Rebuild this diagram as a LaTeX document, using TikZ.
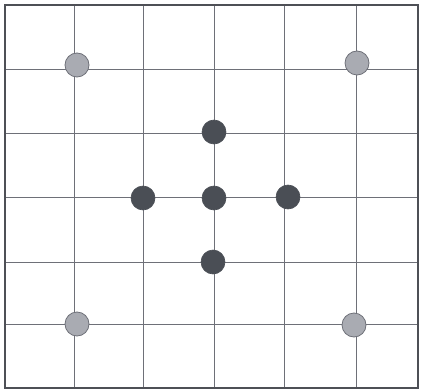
\documentclass[tikz,border=0pt]{standalone}
\usepackage{tikz}
\usepackage{xcolor}
\definecolor{gridgray}{HTML}{6E7078}
\definecolor{framegray}{HTML}{4E5056}
\definecolor{stonelight}{HTML}{A9ABB2}
\definecolor{stonedark}{HTML}{4A4E55}

\begin{document}
\begin{tikzpicture}[x=1pt, y=-1pt,
  lightstone/.style={circle, minimum size=24pt, inner sep=0pt, fill=stonelight, draw=gridgray, line width=0.8pt},
  darkstone/.style={circle, minimum size=24pt, inner sep=0pt, fill=stonedark, draw=stonedark, line width=0.6pt}]
  \useasboundingbox (0,0) rectangle (422,390);
  % grid
  \foreach \gx in {74,143,214,284,356}
    \draw[gridgray, line width=0.7pt] (\gx,5) -- (\gx,388);
  \foreach \gy in {69,133,197,262,324}
    \draw[gridgray, line width=0.7pt] (5,\gy) -- (418,\gy);
  \draw[framegray, line width=1.4pt] (5,5) rectangle (418,388);
  % corner stones
  \node[lightstone] (nw) at (77,65) {};
  \node[lightstone] (ne) at (357,63) {};
  \node[lightstone] (sw) at (77,324) {};
  \node[lightstone] (se) at (354,325) {};
  % centre cross
  \node[darkstone] (c) at (214,198) {};
  \node[darkstone] (n) at (214,132) {};
  \node[darkstone] (w) at (143,198) {};
  \node[darkstone] (e) at (288,197) {};
  \node[darkstone] (s) at (213,262) {};
\end{tikzpicture}
\end{document}
